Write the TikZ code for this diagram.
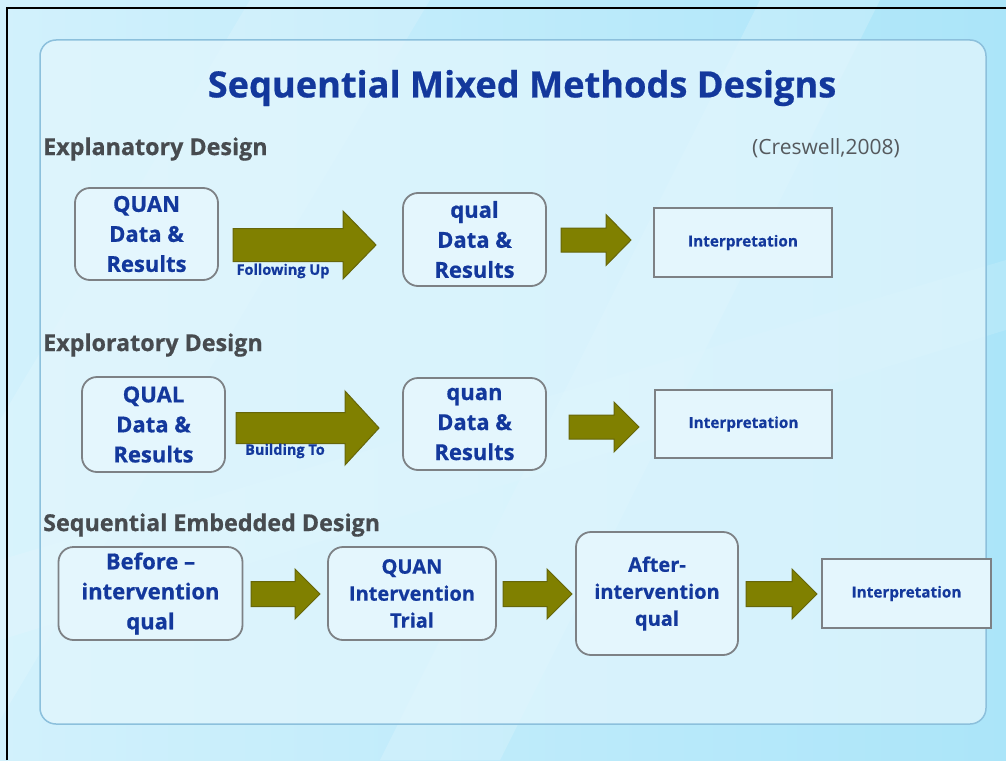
\documentclass[tikz,border=0pt]{standalone}
\usepackage{fontspec}
\setmainfont{Open Sans}[BoldFeatures={FakeBold=0.6}]
\usetikzlibrary{calc}
\definecolor{bgA}{HTML}{D2F1FC}
\definecolor{bgB}{HTML}{ABE5F9}
\definecolor{panelfill}{HTML}{E2F6FD}
\definecolor{paneledge}{HTML}{8CC0DC}
\definecolor{txtblue}{HTML}{13389C}
\definecolor{headgrey}{HTML}{474B4F}
\definecolor{citegrey}{HTML}{55595D}
\definecolor{boxedge}{HTML}{7D8185}
\definecolor{boxfill}{HTML}{E4F6FD}
\definecolor{olive}{HTML}{808000}
\definecolor{oliveedge}{HTML}{66660A}
\newcommand{\blockarrow}[6]{% x0, xhead, xtip, ycentre, body half, head half
  \filldraw[fill=olive, draw=oliveedge, line width=1pt, line join=miter]
    (#1,#4-#5) -- (#2,#4-#5) -- (#2,#4-#6) -- (#3,#4) -- (#2,#4+#6)
    -- (#2,#4+#5) -- (#1,#4+#5) -- cycle;}
\begin{document}
\begin{tikzpicture}[x=1pt,y=-1pt,
  rbox/.style={draw=boxedge, line width=1.8pt, fill=boxfill, rounded corners=15pt,
    align=center, text=txtblue, inner sep=0pt,
    font=\bfseries\fontsize{22}{30}\selectfont},
  sbox/.style={rbox, font=\bfseries\fontsize{20}{27}\selectfont},
  ibox/.style={draw=boxedge, line width=1.8pt, fill=boxfill, inner sep=0pt,
    text=txtblue, font=\bfseries\fontsize{15.3}{17}\selectfont},
  heading/.style={anchor=west, text=headgrey, inner sep=0pt,
    font=\bfseries\fontsize{23.3}{25}\selectfont},
  alabel/.style={text=txtblue, inner sep=0pt, font=\bfseries\fontsize{14.5}{16}\selectfont}]
\useasboundingbox (0,0) rectangle (1006,760);
% background
\shade[left color=bgA, right color=bgB] (0,0) rectangle (1006,760);
\fill[white, opacity=0.18] (380,760) -- (760,0) -- (880,0) -- (500,760) -- cycle;
\fill[white, opacity=0.12] (0,560) -- (1006,260) -- (1006,330) -- (0,640) -- cycle;
\fill[white, opacity=0.15] (0,420) -- (250,0) -- (430,0) -- (0,720) -- cycle;
% panel
\filldraw[fill=panelfill, fill opacity=0.75, draw=paneledge, line width=1.5pt, rounded corners=16pt]
  (40,40) rectangle (986,724);
% frame lines
\draw[black, line width=2.5pt] (7,760) -- (7,8) -- (1006,8);
% title and headings
\node[text=txtblue, inner sep=0pt, font=\bfseries\fontsize{36.2}{40}\selectfont] (title) at (522,88) {Sequential Mixed Methods Designs};
\node[heading] (h1) at (43,149) {Explanatory Design};
\node[heading] (h2) at (43,345) {Exploratory Design};
\node[heading] (h3) at (43,525) {Sequential Embedded Design};
\node[text=citegrey, inner sep=0pt, font=\fontsize{21}{22}\selectfont] (cite) at (826,148) {(Creswell,2008)};
% row 1
\node[rbox, minimum width=143pt, minimum height=92pt] (q1) at (146.5,234) {QUAN\\Data \&\\Results};
\node[rbox, minimum width=143pt, minimum height=93pt] (q2) at (474.5,239.5) {qual\\Data \&\\Results};
\node[ibox, minimum width=178pt, minimum height=69pt] (i1) at (743,242.5) {Interpretation};
\blockarrow{233}{343}{376}{245}{16.5}{34}
\blockarrow{561}{606}{631}{240}{12}{25.5}
\node[alabel] (l1) at (283,271) {Following Up};
% row 2
\node[rbox, minimum width=143pt, minimum height=95pt] (e1) at (153.5,424.5) {QUAL\\Data \&\\Results};
\node[rbox, minimum width=143pt, minimum height=92pt] (e2) at (474.5,424) {quan\\Data \&\\Results};
\node[ibox, minimum width=177pt, minimum height=68pt] (i2) at (743.5,424) {Interpretation};
\blockarrow{236}{345}{379}{428}{15.5}{37}
\blockarrow{569}{614}{639}{427}{12}{25}
\node[alabel] (l2) at (285,451) {Building To};
% row 3
\node[rbox, minimum width=184pt, minimum height=93pt] (s1) at (150.5,593.5) {Before –\\intervention\\qual};
\node[sbox, minimum width=168pt, minimum height=93pt] (s2) at (412,593.5) {QUAN\\Intervention\\Trial};
\node[sbox, minimum width=162pt, minimum height=123pt] (s3) at (657,593.5) {After-\\intervention\\qual};
\node[ibox, minimum width=169pt, minimum height=69pt] (i3) at (906.5,593.5) {Interpretation};
\blockarrow{251}{295}{320}{594}{12.5}{25}
\blockarrow{503}{547}{572}{594}{12.5}{25}
\blockarrow{746}{792}{817}{594}{12.5}{25}
\end{tikzpicture}
\end{document}
